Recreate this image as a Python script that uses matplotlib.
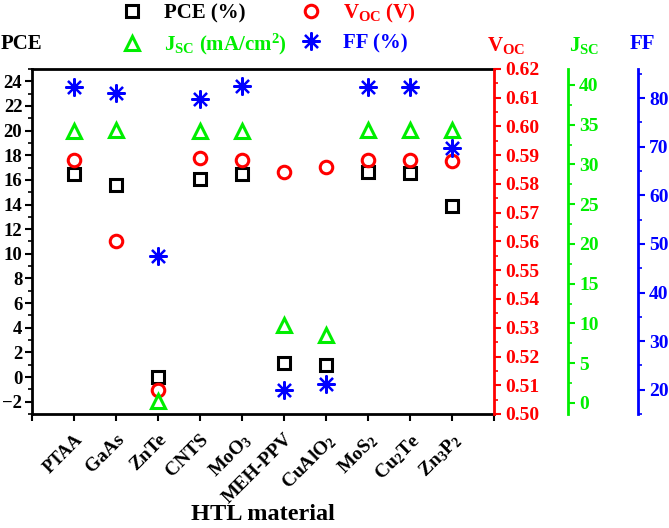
import numpy as np
import matplotlib
matplotlib.use("Agg")
import matplotlib.pyplot as plt
from matplotlib.ticker import MultipleLocator

materials = ["PTAA", "GaAs", "ZnTe", "CNTS", "MoO$_3$", "MEH-PPV",
             "CuAlO$_2$", "MoS$_2$", "Cu$_2$Te", "Zn$_3$P$_2$"]
pce = [16.5, 15.55, 0.0, 16.1, 16.5, 1.1, 1.0, 16.6, 16.55, 13.9]
voc = [0.5883, 0.5602, 0.5083, 0.5889, 0.5883, 0.5843, 0.586, 0.5883, 0.5883, 0.588]
jsc = [34.2, 34.3, 0.2, 34.2, 34.2, 9.8, 8.55, 34.3, 34.3, 34.3]
ff = [82.3, 81.0, 47.6, 79.9, 82.5, 19.9, 21.1, 82.3, 82.3, 69.7]

plt.rcParams['font.family'] = 'Liberation Serif'
plt.rcParams['font.weight'] = 'bold'
plt.rcParams['axes.labelweight'] = 'bold'
plt.rcParams['mathtext.fontset'] = 'custom'
plt.rcParams['mathtext.rm'] = 'Liberation Serif:bold'
plt.rcParams['mathtext.it'] = 'Liberation Serif:bold'
plt.rcParams['mathtext.bf'] = 'Liberation Serif:bold'
plt.rcParams['mathtext.default'] = 'regular'

RED = '#ff0000'
GREEN = '#00ee00'
BLUE = '#0000ff'

fig = plt.figure(figsize=(6.69, 5.28), dpi=100)
ax = fig.add_axes([32 / 669, 1 - 414 / 528, (494 - 32) / 669, (414 - 69) / 528])
ax2 = ax.twinx()
ax3 = ax.twinx()
ax4 = ax.twinx()

x = np.arange(1, len(materials) + 1)

# PCE on main axis
h1, = ax.plot(x, pce, ls='none', marker='s', ms=9, mfc='none', mec='black', mew=2.2)
ax.set_xlim(0, 11)
ax.set_ylim(-3, 25)
ax.yaxis.set_major_locator(MultipleLocator(2))
ax.yaxis.set_minor_locator(MultipleLocator(1))
ax.set_xticks(np.arange(0, 12))
ax.set_xticklabels([""] + materials + [""], rotation=45, ha='right',
                   rotation_mode='anchor', fontsize=14)
ax.get_xticklabels()[1].set_fontsize(13)
ax.tick_params(axis='y', which='major', direction='out', length=5, width=1.5, labelsize=13.5, pad=2)
ax.tick_params(axis='y', which='minor', direction='out', length=3, width=1.2)
ax.tick_params(axis='x', direction='out', length=5, width=1.5, pad=7)
for s in ['left', 'bottom', 'top']:
    ax.spines[s].set_linewidth(2)
ax.spines['right'].set_visible(False)
ax.set_xlabel("HTL material", fontsize=17.5, fontweight='bold')
ax.xaxis.set_label_coords(0.5, -0.262)

# Voc
h2, = ax2.plot(x, voc, ls='none', marker='o', ms=9, mfc='none', mec=RED, mew=2.2)
ax2.set_ylim(0.50, 0.62)
ax2.yaxis.set_major_locator(MultipleLocator(0.01))
ax2.yaxis.set_minor_locator(MultipleLocator(0.005))
ax2.yaxis.set_major_formatter(plt.FormatStrFormatter('%.2f'))
ax2.spines['right'].set_color(RED)
ax2.spines['right'].set_linewidth(2)
ax2.tick_params(axis='y', which='major', colors=RED, direction='out', length=5, width=1.5, labelsize=14, pad=3)
ax2.tick_params(axis='y', which='minor', colors=RED, direction='out', length=3, width=1.2)

# Jsc
h3, = ax3.plot(x, jsc, ls='none', marker='^', ms=10, mfc='none', mec=GREEN, mew=2.2)
ax3.set_ylim(-1.4, 42)
ax3.spines['right'].set_position(('outward', 74 * 0.72))
ax3.yaxis.set_major_locator(MultipleLocator(5))
ax3.yaxis.set_minor_locator(MultipleLocator(2.5))
ax3.spines['right'].set_color(GREEN)
ax3.spines['right'].set_linewidth(2)
ax3.tick_params(axis='y', which='major', colors=GREEN, direction='out', length=5, width=1.5, labelsize=14, pad=3)
ax3.tick_params(axis='y', which='minor', colors=GREEN, direction='out', length=3, width=1.2)

# FF
h4, = ax4.plot(x, ff, ls='none', marker=(8, 2, 0), ms=13, mec=BLUE, mew=1.6)
ax4.set_ylim(15, 86)
ax4.spines['right'].set_position(('outward', 144 * 0.72))
ax4.yaxis.set_major_locator(MultipleLocator(10))
ax4.yaxis.set_minor_locator(MultipleLocator(5))
ax4.spines['right'].set_color(BLUE)
ax4.spines['right'].set_linewidth(2)
ax4.tick_params(axis='y', which='major', colors=BLUE, direction='out', length=5, width=1.5, labelsize=14, pad=3)
ax4.tick_params(axis='y', which='minor', colors=BLUE, direction='out', length=3, width=1.2)

for a in (ax2, ax3, ax4):
    for s in ['left', 'top', 'bottom']:
        a.spines[s].set_visible(False)

# axis titles
fig.text(1 / 669, 1 - 44 / 528, "PCE", fontsize=15, va='center', ha='left')
fig.text(487 / 669, 1 - 46 / 528, "V$_{OC}$", fontsize=15, color=RED, va='center', ha='left')
fig.text(569 / 669, 1 - 46 / 528, "J$_{SC}$", fontsize=15, color=GREEN, va='center', ha='left')
fig.text(630 / 669, 1 - 44 / 528, "FF", fontsize=15, color=BLUE, va='center', ha='left')

# legend
leg = fig.legend([h1, h3, h2, h4],
                 ["PCE (%)", "J$_{SC}$ (mA/cm$^2$)", "V$_{OC}$ (V)", "FF (%)"],
                 ncol=2, frameon=False, loc='upper left',
                 bbox_to_anchor=(116 / 669, 1 - 2 / 528), fontsize=15,
                 borderpad=0, borderaxespad=0,
                 handletextpad=0.8, columnspacing=0.4, labelspacing=0.4,
                 handlelength=1.5)
for t, c in zip(leg.get_texts(), ['black', GREEN, RED, BLUE]):
    t.set_color(c)

fig.savefig("out.png", dpi=100)
